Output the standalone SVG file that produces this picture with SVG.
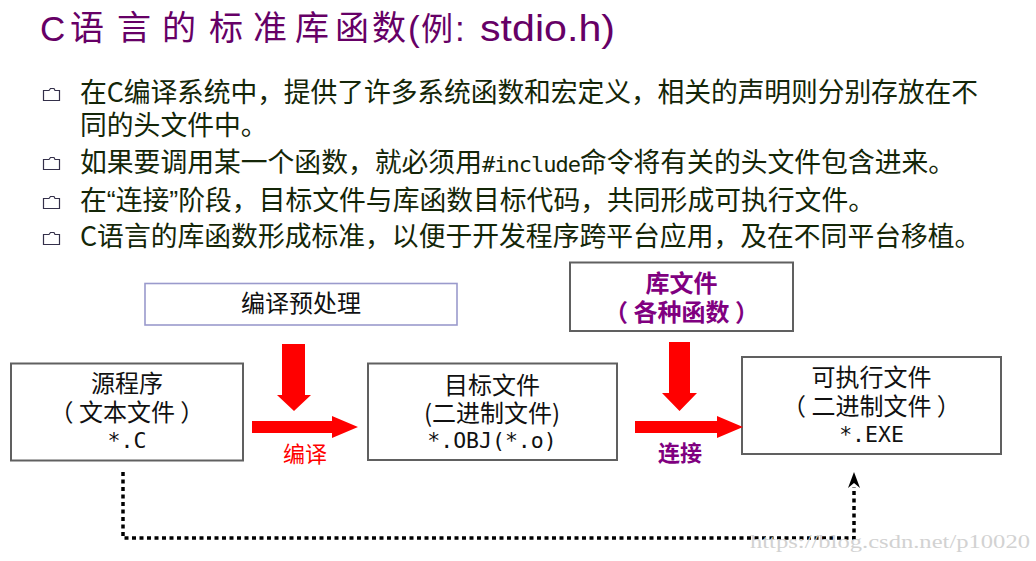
<svg xmlns="http://www.w3.org/2000/svg" width="1036" height="561" viewBox="0 0 1036 561">
<defs>
<style>
.cjk{font-family:"Noto Sans CJK SC","Noto Sans",sans-serif;}
.mono{font-family:"DejaVu Sans Mono","Liberation Mono",monospace;}
.bul{font-size:26.8px;fill:#142608;}
.box{fill:#ffffff;stroke:#606060;stroke-width:2;}
.bt{font-size:24px;fill:#111;text-anchor:middle;}
.mt{font-size:21.5px;fill:#111;text-anchor:middle;}
.pur{fill:#800080;font-weight:bold;}
.red{fill:#ff0000;}
.icon{fill:none;stroke:#34304a;stroke-width:1.2;}
</style>
</defs>
<rect width="1036" height="561" fill="#ffffff"/>

<g id="title" fill="#660066">
<text x="40" y="41" font-family="Liberation Sans, sans-serif" font-size="35">C</text>
<text class="cjk" y="40" font-size="34" x="70 117 162 209 253 295 335 372">语言的标准库函数</text>
<text x="408" y="41" font-family="Liberation Sans, sans-serif" font-size="35">(</text>
<text class="cjk" x="421" y="40" font-size="32">例</text>
<text x="455" y="41" font-family="Liberation Sans, sans-serif" font-size="35">:</text>
<text x="480" y="41" font-family="Liberation Sans, sans-serif" font-size="37" textLength="135" lengthAdjust="spacingAndGlyphs">stdio.h)</text>
</g>

<g id="bullets">
<path class="icon" d="M43.5,100.5 V90.5 H49 L50.5,88.5 H54 L55,90.5 H59.5 V100.5 Z"/>
<path class="icon" d="M43.5,169.5 V159.5 H49 L50.5,157.5 H54 L55,159.5 H59.5 V169.5 Z"/>
<path class="icon" d="M43.5,208.5 V198.5 H49 L50.5,196.5 H54 L55,198.5 H59.5 V208.5 Z"/>
<path class="icon" d="M43.5,244.5 V234.5 H49 L50.5,232.5 H54 L55,234.5 H59.5 V244.5 Z"/>
<text class="cjk bul" x="80" y="102" textLength="898" lengthAdjust="spacing">在C编译系统中，提供了许多系统函数和宏定义，相关的声明则分别存放在不</text>
<text class="cjk bul" x="80" y="135">同的头文件中。</text>
<text class="cjk bul" x="80" y="172">如果要调用某一个函数，就必须用<tspan class="mono" font-size="22" letter-spacing="-1">#include</tspan>命令将有关的头文件包含进来。</text>
<text class="cjk bul" x="80" y="210">在<tspan font-family="Liberation Sans, sans-serif">“</tspan>连接<tspan font-family="Liberation Sans, sans-serif">”</tspan>阶段，目标文件与库函数目标代码，共同形成可执行文件。</text>
<text class="cjk bul" x="80" y="246">C语言的库函数形成标准，以便于开发程序跨平台应用，及在不同平台移植。</text>
</g>

<g id="node-preprocess">
<rect x="145" y="283.5" width="312" height="41.5" fill="#ffffff" stroke="#9a9acc" stroke-width="1.6"/>
<text class="cjk bt" x="301" y="312">编译预处理</text>
</g>

<g id="node-source">
<rect class="box" x="11" y="363.5" width="232" height="97"/>
<text class="cjk bt" x="127" y="392">源程序</text>
<text class="cjk bt" x="127" y="421">（ 文本文件 ）</text>
<text class="mono mt" x="127" y="448">*.C</text>
</g>

<g id="node-object">
<rect class="box" x="368" y="363.5" width="249" height="96.5"/>
<text class="cjk bt" x="492" y="394">目标文件</text>
<text class="cjk bt" x="492" y="422">(二进制文件)</text>
<text class="mono mt" x="492" y="448">*.OBJ(*.o)</text>
</g>

<g id="node-library">
<rect class="box" x="570" y="262.5" width="223" height="68.5"/>
<text class="cjk bt pur" x="681.5" y="292">库文件</text>
<text class="cjk bt pur" x="681.5" y="321">（ 各种函数 ）</text>
</g>

<g id="node-exe">
<rect class="box" x="742" y="357" width="259" height="97"/>
<text class="cjk bt" x="871.5" y="386">可执行文件</text>
<text class="cjk bt" x="871.5" y="415">（ 二进制文件 ）</text>
<text class="mono mt" x="871.5" y="442">*.EXE</text>
</g>

<g id="connectors">
<polygon class="red" points="282,344 305,344 305,395 311,395 294,411 277,395 282,395"/>
<polygon class="red" points="252,421 332,421 332,416 358,427 332,438 332,433 252,433"/>
<text class="cjk red" x="305" y="462" font-size="22" text-anchor="middle">编译</text>
<polygon class="red" points="669,342 690,342 690,393 697,393 679.5,411 662,393 669,393"/>
<polygon class="red" points="635,421 717,421 717,416 743,427 717,438 717,433 635,433"/>
<text class="cjk pur" x="680" y="461" font-size="22" text-anchor="middle">连接</text>
<path d="M123,472 V538 H854 V487" fill="none" stroke="#000" stroke-width="3.5" stroke-dasharray="4 3.5"/>
<polygon points="854,472 860,488 854,483 848,488" fill="#000"/>
</g>

<text x="750" y="548" font-family="Liberation Serif, serif" font-size="18" fill="#d2d2d2" textLength="280" lengthAdjust="spacingAndGlyphs">https://blog.csdn.net/p10020</text>
</svg>
